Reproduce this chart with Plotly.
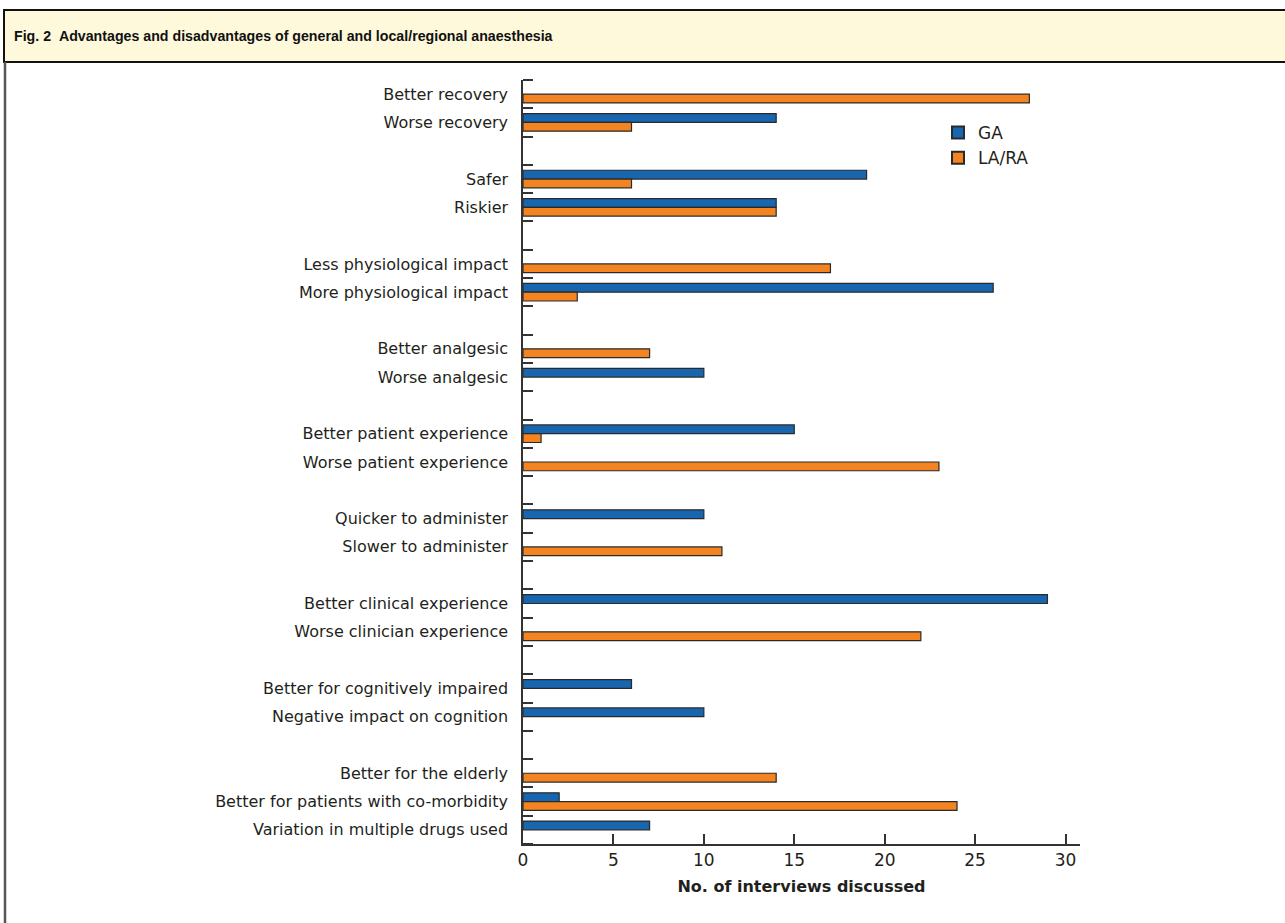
import plotly.graph_objects as go

# ---------------- data ----------------
categories = [
    "Better recovery", "Worse recovery",
    "Safer", "Riskier",
    "Less physiological impact", "More physiological impact",
    "Better analgesic", "Worse analgesic",
    "Better patient experience", "Worse patient experience",
    "Quicker to administer", "Slower to administer",
    "Better clinical experience", "Worse clinician experience",
    "Better for cognitively impaired", "Negative impact on cognition",
    "Better for the elderly", "Better for patients with co-morbidity",
    "Variation in multiple drugs used",
]
group_id = [0, 0, 1, 1, 2, 2, 3, 3, 4, 4, 5, 5, 6, 6, 7, 7, 8, 8, 8]
ga = [None, 14, 19, 14, None, 26, None, 10, 15, None, 10, None, 29, None, 6, 10, None, 2, 7]
lara = [28, 6, 6, 14, 17, 3, 7, None, 1, 23, None, 11, None, 22, None, None, 14, 24, None]
x_ticks = [0, 5, 10, 15, 20, 25, 30]

# ---------------- slot positions (one empty slot between groups) ----------------
centers = []
boundaries = []
pos = 0
prev = None
for g in group_id:
    if prev is not None and g != prev:
        pos += 1  # empty slot
    if prev is None or g != prev:
        boundaries.append(pos)
    centers.append(pos + 0.5)
    boundaries.append(pos + 1)
    pos += 1
    prev = g
n_slots = pos

# ---------------- geometry helpers ----------------
W, H = 1285, 923
L, R, T, B = 523, 1080, 80, 844


def px_x(p):
    return (p - L) / (R - L)


def px_y(p):
    return (B - p) / (B - T)


TXT = "#231F20"
AX = "#333333"
BLUE = "#1866B0"
ORANGE = "#F38421"
EDGE = "#2A2A2A"

fig = go.Figure()
fig.add_trace(go.Bar(
    name="GA", y=centers, x=ga, orientation="h",
    marker=dict(color=BLUE, line=dict(color=EDGE, width=1.2)),
))
fig.add_trace(go.Bar(
    name="LA/RA", y=centers, x=lara, orientation="h",
    marker=dict(color=ORANGE, line=dict(color=EDGE, width=1.2)),
))

fig.update_layout(
    width=W, height=H,
    margin=dict(l=L, r=W - R, t=T, b=H - B, pad=0),
    paper_bgcolor="white", plot_bgcolor="white",
    barmode="group", bargap=0.38, bargroupgap=0,
    font=dict(family="DejaVu Sans", size=16, color=TXT),
    title=dict(
        text="<b>Fig. 2\u00a0\u00a0Advantages and disadvantages of general and local/regional anaesthesia</b>",
        xref="container", yref="container",
        x=14 / W, y=1 - 36 / H, xanchor="left", yanchor="middle",
        font=dict(family="Liberation Sans", size=14.2, color="#111111"),
    ),
    legend=dict(
        x=px_x(938), y=px_y(115), xanchor="left", yanchor="top",
        bgcolor="rgba(0,0,0,0)", font=dict(size=17, color=TXT),
        traceorder="normal", itemsizing="constant",
    ),
    xaxis=dict(
        range=[0, 30.8], tickmode="array", tickvals=x_ticks,
        ticks="inside", ticklen=10, tickwidth=1.5, tickcolor=AX,
        showline=True, linecolor=AX, linewidth=1.5,
        showgrid=False, zeroline=False,
        tickfont=dict(size=17, color=TXT),
        title=dict(text="<b>No. of interviews discussed</b>", standoff=12,
                   font=dict(size=16, color=TXT)),
    ),
    yaxis=dict(
        range=[n_slots, 0], tickmode="array", tickvals=centers, ticktext=categories,
        ticks="", showline=True, linecolor=AX, linewidth=1.5,
        showgrid=False, zeroline=False, ticklabelstandoff=10,
        tickfont=dict(size=16, color=TXT),
        minor=dict(tickmode="array", tickvals=boundaries, ticks="inside",
                   ticklen=10, tickwidth=1.5, tickcolor=AX, showgrid=False),
    ),
    shapes=[
        dict(type="rect", xref="paper", yref="paper",
             x0=px_x(4), x1=px_x(1292), y0=px_y(62), y1=px_y(10),
             fillcolor="#FEF9DB", line=dict(color="#111111", width=2), layer="below"),
        dict(type="line", xref="paper", yref="paper",
             x0=px_x(5), x1=px_x(5), y0=px_y(62), y1=px_y(930),
             line=dict(color="#555555", width=2.5)),
    ],
)

fig.write_html(
    "out.html",
    config={"displayModeBar": False},
    post_script="document.body.style.margin='0';document.body.style.overflow='hidden';",
)
